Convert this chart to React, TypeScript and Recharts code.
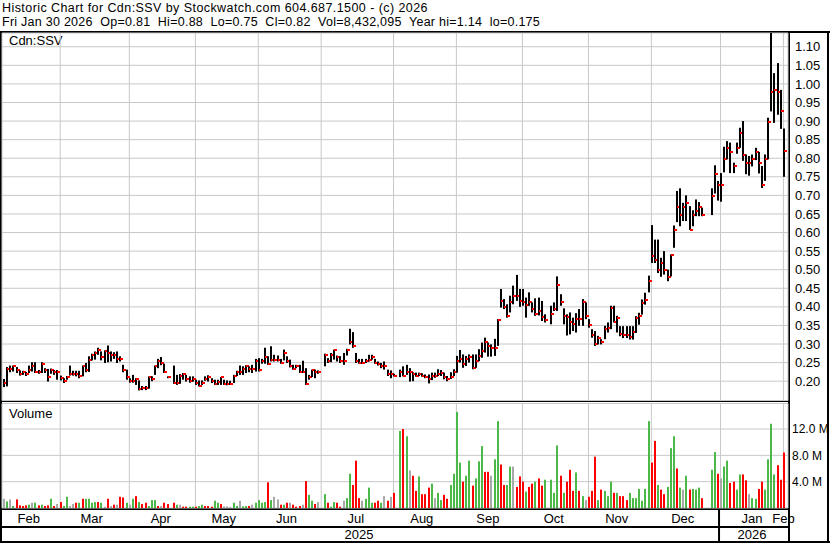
import { ComposedChart, Bar, XAxis, YAxis, CartesianGrid } from "recharts";

const FONT = 'Arial, "Liberation Sans", sans-serif';

// calendar: one slot per trading day, null where the chart leaves a holiday gap
const months = ["Feb", "Mar", "Apr", "May", "Jun", "Jul", "Aug", "Sep", "Oct", "Nov", "Dec", "Jan"];
const monthSlots = [18, 22, 21, 20, 20, 23, 20, 21, 21, 20, 22, 21];
const nextMonth = "Feb";
const years = ["2025", "2026"];
const yearFirstMonth = [0, 11];

const priceTicks = [0.2, 0.25, 0.3, 0.35, 0.4, 0.45, 0.5, 0.55, 0.6, 0.65, 0.7, 0.75, 0.8, 0.85, 0.9, 0.95, 1.0, 1.05, 1.1];
const volumeTicks = [4, 8, 12];

const highs = [
  0.206, 0.238, 0.242, 0.242, 0.238, 0.229, 0.228, 0.225, 0.242, 0.251, 0.251, 0.23, 0.251, 0.235, 0.233, 0.234, 0.23, 0.23,
  0.215, 0.208, 0.214, 0.242, 0.228, 0.228, 0.228, 0.242, 0.249, 0.267, 0.274, 0.28, 0.29, 0.28, 0.283, 0.296, 0.28, 0.278, 0.28, 0.267, 0.244, 0.231,
  0.208, 0.217, 0.208, 0.202, 0.187, 0.187, 0.213, 0.213, 0.242, 0.26, 0.265, 0.247, 0.213, null, 0.242, 0.217, 0.219, 0.222, 0.217, 0.213, 0.213,
  0.204, 0.202, 0.202, 0.213, 0.216, 0.208, 0.204, 0.204, 0.211, 0.204, 0.202, 0.201, 0.217, 0.228, 0.242, 0.24, 0.243, 0.24, 0.244, 0.26,
  0.262, 0.26, 0.29, 0.267, 0.294, 0.271, 0.269, 0.26, 0.285, 0.267, 0.258, 0.244, 0.244, 0.244, 0.255, 0.235, 0.217, 0.231, 0.231, 0.229,
  null, 0.274, 0.262, 0.276, 0.285, 0.269, 0.267, 0.276, 0.287, 0.341, 0.332, 0.276, 0.26, 0.26, 0.26, 0.271, 0.271, 0.26, 0.253, 0.249, 0.253, 0.231, 0.229,
  0.22, null, 0.231, 0.24, 0.244, 0.235, 0.224, 0.223, 0.223, 0.221, 0.218, 0.218, 0.223, 0.223, 0.232, 0.23, 0.223, 0.214, 0.224, 0.232,
  0.268, 0.284, 0.272, 0.268, 0.272, 0.272, 0.272, 0.286, 0.304, 0.317, 0.304, 0.299, 0.314, 0.367, 0.448, 0.421, 0.407, 0.43, 0.457, 0.486, 0.448,
  0.448, 0.425, 0.439, 0.412, 0.423, 0.425, 0.416, 0.38, null, 0.403, 0.412, 0.482, 0.434, 0.396, 0.38, 0.385, 0.371, 0.383, 0.394, 0.421, 0.412,
  0.367, 0.34, 0.335, 0.322, 0.313, 0.349, 0.358, 0.403, 0.403, 0.376, 0.348, 0.348, 0.348, 0.348, 0.348, 0.375, 0.384, 0.42, 0.438, 0.484,
  0.62, 0.581, 0.581, 0.532, 0.55, 0.5, 0.541, 0.619, 0.712, 0.719, 0.68, 0.7, 0.671, 0.66, 0.689, 0.682, 0.667, null, null, 0.719, 0.781, 0.739,
  0.76, 0.831, 0.846, 0.842, 0.788, 0.842, 0.882, 0.9, 0.81, 0.806, 0.81, 0.828, 0.817, 0.779, 0.81, 0.909, 1.14, 1.029, 1.056, 0.984, 0.88,
];

const lows = [
  0.184, 0.186, 0.224, 0.226, 0.222, 0.215, 0.217, 0.214, 0.222, 0.226, 0.222, 0.22, 0.222, 0.222, 0.199, 0.22, 0.217, 0.204,
  0.202, 0.195, 0.204, 0.215, 0.215, 0.213, 0.208, 0.213, 0.224, 0.225, 0.256, 0.258, 0.271, 0.256, 0.249, 0.251, 0.253, 0.26, 0.249, 0.253, 0.224, 0.204,
  0.196, 0.196, 0.19, 0.175, 0.176, 0.176, 0.18, 0.2, 0.217, 0.235, 0.243, 0.222, 0.208, null, 0.193, 0.19, 0.193, 0.204, 0.199, 0.196, 0.199,
  0.19, 0.186, 0.19, 0.201, 0.199, 0.195, 0.19, 0.19, 0.19, 0.19, 0.189, 0.19, 0.195, 0.214, 0.217, 0.217, 0.222, 0.224, 0.222, 0.226,
  0.226, 0.247, 0.247, 0.244, 0.253, 0.253, 0.253, 0.247, 0.256, 0.249, 0.237, 0.231, 0.235, 0.222, 0.222, 0.19, 0.204, 0.211, 0.208, 0.22,
  null, 0.24, 0.249, 0.251, 0.258, 0.253, 0.249, 0.244, 0.269, 0.299, 0.29, 0.249, 0.247, 0.247, 0.249, 0.253, 0.258, 0.247, 0.242, 0.235, 0.231, 0.214, 0.208,
  0.213, null, 0.211, 0.213, 0.217, 0.199, 0.2, 0.212, 0.214, 0.212, 0.208, 0.194, 0.203, 0.209, 0.214, 0.214, 0.205, 0.2, 0.206, 0.214,
  0.223, 0.25, 0.236, 0.241, 0.25, 0.232, 0.236, 0.254, 0.263, 0.277, 0.266, 0.266, 0.268, 0.295, 0.398, 0.394, 0.371, 0.385, 0.407, 0.416, 0.4,
  0.403, 0.371, 0.403, 0.385, 0.376, 0.377, 0.362, 0.358, null, 0.353, 0.389, 0.389, 0.403, 0.353, 0.323, 0.326, 0.335, 0.331, 0.349, 0.349, 0.367,
  0.344, 0.317, 0.295, 0.299, 0.299, 0.313, 0.331, 0.34, 0.358, 0.331, 0.321, 0.316, 0.316, 0.312, 0.312, 0.33, 0.352, 0.379, 0.406, 0.439,
  0.518, 0.518, 0.491, 0.481, 0.487, 0.469, 0.482, 0.559, 0.628, 0.617, 0.631, 0.631, 0.607, 0.617, 0.644, 0.644, 0.644, null, null, 0.647, 0.705, 0.686,
  0.683, 0.762, 0.797, 0.76, 0.76, 0.812, 0.828, 0.793, 0.757, 0.753, 0.778, 0.795, 0.759, 0.72, 0.739, 0.797, 0.926, 0.895, 0.917, 0.879, 0.75,
];

const closes = [
  0.195, 0.234, 0.234, 0.24, 0.229, 0.219, 0.224, 0.218, 0.229, 0.24, 0.224, 0.224, 0.246, 0.229, 0.21, 0.229, 0.224, 0.224,
  0.209, 0.2, 0.21, 0.219, 0.219, 0.219, 0.215, 0.24, 0.229, 0.258, 0.27, 0.276, 0.283, 0.264, 0.28, 0.276, 0.27, 0.27, 0.259, 0.259, 0.229, 0.21,
  0.2, 0.2, 0.205, 0.178, 0.181, 0.181, 0.21, 0.205, 0.24, 0.253, 0.249, 0.224, 0.21, null, 0.195, 0.195, 0.215, 0.219, 0.205, 0.2, 0.205,
  0.195, 0.188, 0.195, 0.205, 0.21, 0.2, 0.193, 0.199, 0.21, 0.193, 0.193, 0.193, 0.214, 0.224, 0.224, 0.233, 0.24, 0.233, 0.233, 0.253,
  0.229, 0.253, 0.264, 0.247, 0.258, 0.258, 0.258, 0.248, 0.276, 0.253, 0.24, 0.234, 0.24, 0.224, 0.224, 0.193, 0.21, 0.229, 0.224, 0.224,
  null, 0.27, 0.253, 0.27, 0.283, 0.264, 0.253, 0.253, 0.283, 0.305, 0.294, 0.253, 0.249, 0.249, 0.253, 0.258, 0.264, 0.249, 0.246, 0.24, 0.24, 0.218, 0.218,
  0.214, null, 0.224, 0.214, 0.224, 0.224, 0.22, 0.214, 0.218, 0.214, 0.211, 0.205, 0.214, 0.214, 0.218, 0.222, 0.211, 0.205, 0.211, 0.224,
  0.254, 0.26, 0.247, 0.26, 0.265, 0.235, 0.254, 0.269, 0.281, 0.305, 0.295, 0.288, 0.288, 0.365, 0.415, 0.4, 0.376, 0.412, 0.43, 0.43, 0.415,
  0.412, 0.405, 0.412, 0.395, 0.38, 0.388, 0.373, 0.365, null, 0.38, 0.395, 0.459, 0.412, 0.376, 0.374, 0.36, 0.354, 0.368, 0.368, 0.412, 0.376,
  0.35, 0.323, 0.299, 0.315, 0.305, 0.34, 0.344, 0.396, 0.36, 0.37, 0.328, 0.323, 0.323, 0.318, 0.333, 0.369, 0.375, 0.41, 0.418, 0.469,
  0.538, 0.527, 0.5, 0.517, 0.5, 0.48, 0.539, 0.608, 0.669, 0.647, 0.669, 0.679, 0.608, 0.647, 0.658, 0.669, 0.647, null, null, 0.698, 0.758, 0.729,
  0.729, 0.798, 0.828, 0.817, 0.779, 0.828, 0.868, 0.808, 0.787, 0.787, 0.798, 0.817, 0.787, 0.729, 0.798, 0.897, 0.977, 0.984, 0.977, 0.926, 0.82,
];

// volume in millions of shares
const volumes = [
  1.4, 1.0, 1.3, 0.3, 1.3, 0.4, 0.3, 0.4, 0.5, 0.8, 0.8, 0.4, 0.5, 0.3, 0.4, 1.4, 0.3, 0.6,
  0.9, 0.3, 1.7, 0.3, 0.6, 0.8, 0.8, 1.4, 1.4, 1.4, 0.8, 0.9, 0.9, 0.8, 0.2, 1.4, 0.3, 0.5, 0.5, 1.7, 1.6, 0.8,
  0.5, 1.4, 1.8, 0.9, 0.6, 0.8, 0.3, 1.2, 1.2, 0.3, 0.3, 0.8, 0.6, null, 0.8, 0.5, 0.5, 0.2, 0.2, 0.2, 0.2,
  0.2, 0.3, 0.5, 0.3, 0.3, 0.2, 1.1, 0.8, 0.6, 0.25, 0.25, 0.15, 0.8, 0.3, 1.1, 0.25, 0.3, 0.3, 0.5, 0.8,
  1.2, 0.8, 0.9, 3.9, 1.2, 1.7, 1.3, 0.5, 0.5, 0.8, 0.8, 0.5, 0.2, 0.3, 0.5, 4.1, 2.0, 1.1, 0.6, 0.9,
  null, 2.1, 0.8, 0.2, 0.9, 0.8, 0.2, 1.1, 1.5, 5.2, 3.5, 7.2, 1.5, 1.1, 1.4, 3.1, 0.8, 0.8, 1.1, 0.8, 1.8, 1.1, 1.7,
  2.3, null, 11.7, 12.0, 10.9, 5.7, 4.9, 2.6, 4.8, 2.1, 2.1, 3.1, 3.7, 1.5, 2.3, 1.2, 2.0, 1.4, 3.5, 5.2,
  14.6, 6.9, 4.0, 4.9, 7.2, 3.4, 4.5, 7.1, 9.4, 5.5, 5.5, 4.9, 7.4, 13.2, 6.6, 3.5, 3.5, 6.3, 6.3, 3.2, 4.8,
  4.0, 2.5, 3.2, 3.7, 4.0, 4.5, 3.4, 4.3, null, 4.3, 2.3, 9.5, 4.9, 2.3, 4.0, 5.8, 2.6, 5.4, 2.6, 1.8, 1.2,
  1.7, 2.6, 7.8, 1.2, 2.8, 2.6, 1.8, 4.0, 2.3, 2.3, 1.8, 1.8, 1.2, 2.3, 1.5, 1.5, 2.9, 1.1, 2.9, 13.2,
  6.9, 10.2, 3.5, 2.8, 2.1, 3.2, 9.1, 10.9, 6.0, 3.1, 2.8, 4.9, 2.8, 2.9, 2.8, 3.1, 1.5, null, null, 5.8, 8.5, 5.2,
  4.5, 6.3, 7.2, 3.8, 4.0, 2.8, 5.1, 5.1, 4.2, 2.1, 1.5, 1.4, 2.9, 4.0, 2.8, 7.4, 12.8, 5.1, 6.5, 4.3, 8.43,
];

// day direction shown by the volume colour: 1 up, -1 down, 0 unchanged
const moves = [
  0, 1, 0, 1, -1, -1, -1, -1, 1, 0, 1, -1, 1, -1, -1, 1, -1, 0,
  -1, 1, 1, 0, 0, -1, 1, -1, 1, 1, 1, 1, -1, 1, 0, -1, 0, -1, 0, -1, -1, 1,
  0, 1, -1, 1, -1, -1, 1, 1, 1, -1, 0, -1, -1, null, -1, 1, 0, -1, -1, 1, 1,
  -1, 1, 1, -1, -1, -1, 1, 1, -1, 0, 0, 0, 1, 1, 0, 1, 1, -1, 0, 1,
  1, 1, 1, -1, 1, 0, 0, -1, 1, -1, 0, -1, -1, -1, 0, -1, 1, 1, -1, 0,
  null, 1, -1, 1, 1, -1, -1, 0, 1, 1, -1, -1, -1, 0, 1, 1, 1, -1, -1, 1, 0, -1, 0,
  -1, null, 1, -1, 1, 0, -1, -1, 1, -1, -1, -1, 1, 0, 1, 1, -1, -1, 1, 1,
  1, 1, -1, 1, 1, -1, 1, 1, 1, -1, -1, 0, 1, 1, -1, -1, 1, 1, 0, -1, -1,
  -1, 1, -1, -1, 1, -1, -1, 1, null, 1, 1, 1, -1, 1, -1, -1, -1, 1, -1, 1, 0,
  -1, -1, -1, 1, -1, 1, 1, 1, -1, 1, -1, -1, -1, 1, 1, 1, 1, 1, 1, 1,
  -1, -1, 1, -1, -1, 1, 1, 1, -1, 1, 0, 1, -1, 1, 1, 1, -1, null, null, 1, 1, -1,
  0, 1, 1, -1, -1, 1, 1, -1, -1, 0, 1, 1, -1, -1, 1, 1, 1, 1, -1, -1, -1,
];

const rows = highs.map((hi, i) => ({
  i,
  range: hi == null ? null : [lows[i], hi],
  hi,
  lo: lows[i],
  cl: closes[i],
  vol: volumes[i],
  move: moves[i],
}));

const monthStart: number[] = [];
monthSlots.reduce((acc, n) => {
  monthStart.push(acc);
  return acc + n;
}, 0);
const lastIdx = rows.length - 1;
const gridTicks = [...monthStart.slice(1), lastIdx];

type AxisLabel = { month?: string; year?: string; split?: boolean };
const labelAt = new Map<number, AxisLabel>();
const addLabel = (idx: number, part: AxisLabel) => labelAt.set(idx, { ...(labelAt.get(idx) || {}), ...part });
months.forEach((m, k) => addLabel(Math.floor(monthStart[k] + (monthSlots[k] - 1) / 2), { month: m }));
addLabel(lastIdx, { month: nextMonth });
years.forEach((yr, k) => {
  const from = monthStart[yearFirstMonth[k]];
  const to = k + 1 < years.length ? monthStart[yearFirstMonth[k + 1]] - 1 : lastIdx;
  addLabel(Math.floor((from + to) / 2), { year: yr });
  if (k > 0) addLabel(from, { split: true });
});
const labelTicks = [...labelAt.keys()].sort((a, b) => a - b);

const moveColor = (m: number | null) => (m === 1 ? "#4cb848" : m === -1 ? "#ff0000" : "#a8a8a8");

function PriceBar(props: any) {
  const { x, y, width, height, payload } = props;
  if (!payload || payload.hi == null) return null;
  const cx = Math.round(x + width / 2);
  const span = payload.hi - payload.lo;
  const yc = span > 0 ? y + ((payload.hi - payload.cl) / span) * height : y;
  return (
    <g>
      <rect x={cx - 1} y={y} width={2} height={Math.max(height, 1)} fill="#000" />
      <rect x={cx} y={Math.round(yc) - 1} width={3} height={2} fill="#ff0000" />
    </g>
  );
}

function VolBar(props: any) {
  const { x, y, width, height, payload } = props;
  if (!payload || payload.vol == null || !(height > 0)) return null;
  const cx = Math.round(x + width / 2);
  return <rect x={cx - 1} y={y} width={2} height={height} fill={moveColor(payload.move)} />;
}

function AxisTick(props: any) {
  const { x, y, payload } = props;
  const info = labelAt.get(payload.value);
  if (!info) return null;
  return (
    <g>
      {info.split && <line x1={x - 1.5} x2={x - 1.5} y1={y + 2} y2={y + 33} stroke="#000" strokeWidth={2} />}
      {info.month && (
        <text x={x} y={y + 15.3} textAnchor="middle" fontSize={13} fontFamily={FONT} fill="#000">
          {info.month}
        </text>
      )}
      {info.year && (
        <text x={x} y={y + 31.3} textAnchor="middle" fontSize={13} fontFamily={FONT} fill="#000">
          {info.year}
        </text>
      )}
    </g>
  );
}

const axisText = { fill: "#000", fontSize: 13, fontFamily: FONT };
const volText = { fill: "#000", fontSize: 12, fontFamily: FONT };
const pad = { left: 0, right: 3 };

export default function App() {
  return (
    <div style={{ position: "absolute", left: 0, top: 0, width: 830, height: 543, background: "#fff", overflow: "hidden" }}>
      <svg width={830} height={543} style={{ position: "absolute", left: 0, top: 0 }}>
        <g fontFamily={FONT} fill="#000">
          <text x={2} y={12.4} fontSize={12.5} letterSpacing={0.43}>
            Historic Chart for Cdn:SSV by Stockwatch.com 604.687.1500 - (c) 2026
          </text>
          <text x={2} y={26.2} fontSize={12.5} letterSpacing={0.26} style={{ whiteSpace: "pre" }}>
            {"Fri Jan 30 2026  Op=0.81  Hi=0.88  Lo=0.75  Cl=0.82  Vol=8,432,095  Year hi=1.14  lo=0.175"}
          </text>
          <text x={9} y={45} fontSize={13}>Cdn:SSV</text>
          <text x={9} y={418} fontSize={13}>Volume</text>
        </g>
        <rect x={0} y={31} width={830} height={2} fill="#000" />
        <rect x={0} y={31} width={2} height={512} fill="#000" />
        <rect x={788} y={31} width={2} height={512} fill="#000" />
        <rect x={0} y={401} width={790} height={1} fill="#000" />
        <rect x={0} y={403} width={790} height={1} fill="#000" />
        <rect x={0} y={508} width={790} height={2} fill="#000" />
        <rect x={0} y={526} width={790} height={2} fill="#000" />
        <rect x={0} y={541} width={830} height={2} fill="#000" />
        <rect x={827} y={31} width={2} height={512} fill="#000" />
      </svg>

      <div style={{ position: "absolute", left: 0, top: 0 }}>
        <ComposedChart width={830} height={401} data={rows} margin={{ top: 33, right: 0, bottom: 0.5, left: 2 }}>
          <CartesianGrid stroke="#c8c8c8" xAxisId="t" yAxisId="p" />
          <XAxis xAxisId="t" dataKey="i" type="category" hide ticks={gridTicks} interval={0} padding={pad} />
          <YAxis
            yAxisId="p"
            orientation="right"
            width={42}
            domain={[0.148, 1.137]}
            allowDataOverflow
            ticks={priceTicks}
            interval={0}
            axisLine={false}
            tickLine={false}
            tickSize={0}
            tickMargin={7}
            tick={axisText}
            tickFormatter={(v: number) => v.toFixed(2)}
          />
          <Bar xAxisId="t" yAxisId="p" dataKey="range" barSize={2} shape={<PriceBar />} isAnimationActive={false} />
        </ComposedChart>
      </div>

      <div style={{ position: "absolute", left: 0, top: 401 }}>
        <ComposedChart width={830} height={142} data={rows} margin={{ top: 2.5, right: 0, bottom: 0, left: 2 }}>
          <CartesianGrid stroke="#c8c8c8" xAxisId="t" yAxisId="v" />
          <XAxis xAxisId="t" dataKey="i" type="category" hide ticks={gridTicks} interval={0} padding={pad} />
          <XAxis
            xAxisId="l"
            dataKey="i"
            type="category"
            height={35}
            ticks={labelTicks}
            interval={0}
            axisLine={false}
            tickLine={false}
            tickSize={0}
            tickMargin={0}
            tick={<AxisTick />}
            padding={pad}
          />
          <YAxis
            yAxisId="v"
            orientation="right"
            width={42}
            domain={[0, 15.88]}
            allowDataOverflow
            ticks={volumeTicks}
            interval={0}
            axisLine={false}
            tickLine={false}
            tickSize={0}
            tickMargin={4}
            tick={volText}
            tickFormatter={(v: number) => v.toFixed(1) + "\u00a0M"}
          />
          <Bar xAxisId="t" yAxisId="v" dataKey="vol" barSize={2} shape={<VolBar />} isAnimationActive={false} />
        </ComposedChart>
      </div>
    </div>
  );
}
